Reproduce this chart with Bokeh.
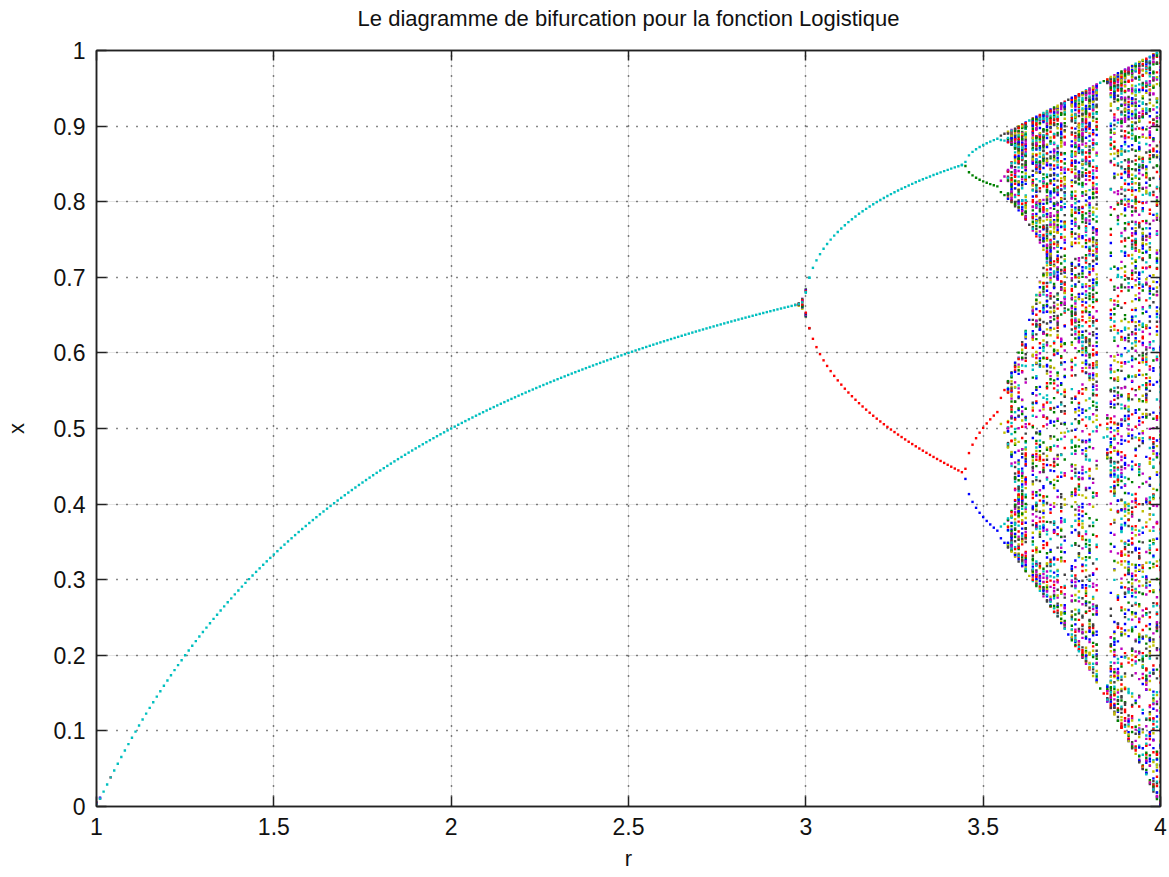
import numpy as np
from bokeh.plotting import figure
from bokeh.models import ColumnDataSource, LinearAxis, FixedTicker, Range1d, Grid
from bokeh.embed import file_html
from bokeh.resources import INLINE

# ---- data definition (logistic map bifurcation) ----
r_start = 1.0
r_stop = 4.0
r_step = 0.01
x_init = 0.2
n_transient = 150
n_keep = 160

x_ticks = [1, 1.5, 2, 2.5, 3, 3.5, 4]
x_tick_labels = ["1", "1.5", "2", "2.5", "3", "3.5", "4"]
y_ticks = [0, 0.1, 0.2, 0.3, 0.4, 0.5, 0.6, 0.7, 0.8, 0.9, 1]
y_tick_labels = ["0", "0.1", "0.2", "0.3", "0.4", "0.5", "0.6", "0.7", "0.8", "0.9", "1"]

series_colors = ["#0000ff", "#008000", "#ff0000", "#00bfbf", "#bf00bf", "#bfbf00", "#404040"]

title_text = "Le diagramme de bifurcation pour la fonction Logistique"
x_label = "r"
y_label = "x"

# ---- iterate the logistic map ----
r_values = np.round(np.arange(r_start, r_stop + r_step / 2, r_step), 4)
x = np.full(r_values.shape, x_init)
for _ in range(n_transient):
    x = r_values * x * (1 - x)
iterates = []
for _ in range(n_keep):
    x = r_values * x * (1 - x)
    iterates.append(x.copy())

# colour of each series (MATLAB-like colour order, last series cyan)
offset = (3 - (n_keep - 1)) % 7
seen = {}
for j, xs in enumerate(iterates):
    col = series_colors[(j + offset) % 7]
    for rv, xv in zip(r_values, xs):
        key = (rv, round(float(xv), 3))
        seen[key] = (j, rv, float(xv), col)
pts = sorted(seen.values(), key=lambda t: t[0])
src = ColumnDataSource(dict(
    r=[p[1] for p in pts],
    x=[p[2] for p in pts],
    c=[p[3] for p in pts],
))

FONT = "Liberation Sans"

p = figure(width=1169, height=877, output_backend="svg", toolbar_location=None,
           x_range=Range1d(r_start, r_stop), y_range=Range1d(0, 1),
           min_border_left=95, min_border_right=9, min_border_top=50, min_border_bottom=71,
           x_axis_location=None, y_axis_location=None)
p.background_fill_color = "white"
p.border_fill_color = "white"
p.outline_line_color = "#222222"
p.outline_line_width = 1.5

def make_axis(ticks, labels, show_labels, axis_label=None, label_standoff=6, label_size="22px"):
    ax = LinearAxis(ticker=FixedTicker(ticks=ticks))
    ax.major_label_overrides = {t: l for t, l in zip(ticks, labels)}
    ax.major_tick_in = 10
    ax.major_tick_out = 0
    ax.minor_tick_in = 0
    ax.minor_tick_out = 0
    ax.major_tick_line_color = "#222222"
    ax.major_tick_line_width = 1.5
    ax.axis_line_color = "#222222"
    ax.axis_line_width = 1.5
    ax.major_label_text_font = FONT
    ax.major_label_text_font_size = "23px"
    ax.major_label_text_color = "#111111"
    ax.major_label_standoff = 11
    if not show_labels:
        ax.major_label_text_font_size = "0px"
        ax.major_label_text_alpha = 0
        ax.major_label_standoff = 0
    if axis_label:
        ax.axis_label = axis_label
        ax.axis_label_text_font = FONT
        ax.axis_label_text_font_size = label_size
        ax.axis_label_text_font_style = "normal"
        ax.axis_label_text_color = "#111111"
        ax.axis_label_standoff = label_standoff
    return ax

p.add_layout(make_axis(x_ticks, x_tick_labels, True, x_label, 8), "below")
p.add_layout(make_axis(y_ticks, y_tick_labels, True, y_label, 22), "left")
# the title is drawn as the label of the top axis
p.add_layout(make_axis(x_ticks, x_tick_labels, False, title_text, 20), "above")
p.add_layout(make_axis(y_ticks, y_tick_labels, False), "right")

for dim, ticks in ((0, x_ticks), (1, y_ticks)):
    g = Grid(dimension=dim, ticker=FixedTicker(ticks=ticks))
    g.grid_line_color = "#111111"
    g.grid_line_dash = "1 9"
    g.grid_line_width = 1.5
    p.add_layout(g)

p.scatter("r", "x", source=src, marker="square", size=2.4, fill_color="c",
          line_color=None)

open("out.html", "w").write(file_html(p, INLINE))
